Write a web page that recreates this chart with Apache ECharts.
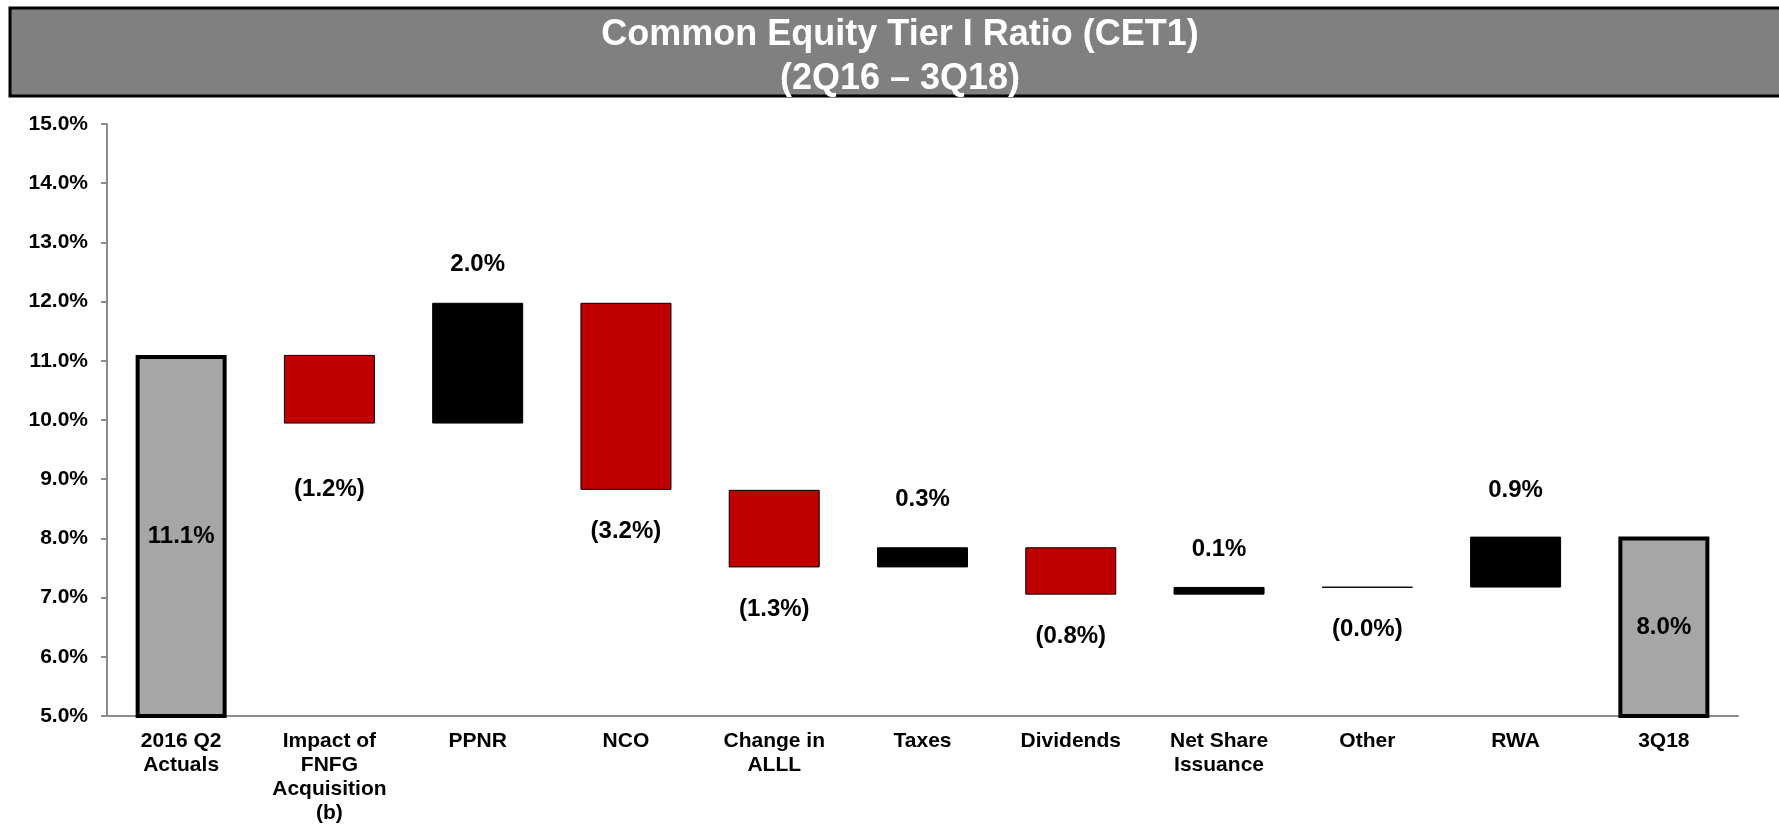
<!DOCTYPE html>
<html>
<head>
<meta charset="utf-8">
<script src="https://cdn.jsdelivr.net/npm/echarts@6/dist/echarts.min.js"></script>
<style>
html, body { margin: 0; padding: 0; background: #fff; }
#main { width: 1779px; height: 825px; }
</style>
</head>
<body>
<div id="main"></div>
<script>
// categories and values (percent)
var categories = ['2016 Q2\nActuals', 'Impact of\nFNFG\nAcquisition\n(b)', 'PPNR', 'NCO', 'Change in\nALLL',
    'Taxes', 'Dividends', 'Net Share\nIssuance', 'Other', 'RWA', '3Q18'];
var startValue = 11.1;
var changes = [-1.16, 2.04, -3.16, -1.31, 0.34, -0.80, 0.13, -0.01, 0.86];

// build waterfall: invisible base + visible step
var baseData = [0];
var stepData = [];
var running = startValue;
stepData.push({ value: startValue, kind: 'total', label: startValue.toFixed(1) + '%' });
changes.forEach(function (c) {
    var next = running + c;
    baseData.push(Math.min(running, next));
    var txt = c < 0 ? '(' + Math.abs(c).toFixed(1) + '%)' : c.toFixed(1) + '%';
    stepData.push({ value: Math.abs(c), kind: c < 0 ? 'down' : 'up', label: txt });
    running = next;
});
baseData.push(0);
stepData.push({ value: running, kind: 'total', label: running.toFixed(1) + '%' });

var styles = {
    total: { color: '#A6A6A6', borderColor: '#000', borderWidth: 4 },
    down: { color: '#C00000', borderColor: '#000', borderWidth: 1 },
    up: { color: '#000', borderColor: '#000', borderWidth: 1 }
};
var labelPos = { total: 'inside', down: 'bottom', up: 'top' };
// the labels were placed by hand in the original, some sit further off the bar
var labelDist = [0, 54, 26, 30, 30, 36, 30, 26, 30, 34, 0];

var myChart = echarts.init(document.getElementById('main'));
var font = 'Liberation Sans, Arial, sans-serif';

var option = {
    animation: false,
    title: {
        text: 'Common Equity Tier I Ratio (CET1)\n(2Q16 \u2013 3Q18)',
        left: 900,
        top: 13,
        padding: 0,
        textAlign: 'center',
        textStyle: {
            color: '#fff',
            fontFamily: font,
            fontWeight: 'bold',
            fontSize: 36,
            lineHeight: 44
        }
    },
    graphic: [{
        type: 'rect',
        z: -1,
        shape: { x: 10, y: 8, width: 1800, height: 88 },
        style: { fill: '#808080', stroke: '#000', lineWidth: 3 }
    }],
    grid: {
        left: 107,
        right: 41,
        top: 124,
        bottom: 108
    },
    xAxis: {
        type: 'category',
        data: categories,
        axisLine: { lineStyle: { color: '#8c8c8c', width: 2 } },
        axisTick: { length: 6, lineStyle: { color: '#8c8c8c', width: 2 } },
        axisLabel: {
            interval: 0,
            margin: 13,
            color: '#000',
            fontFamily: font,
            fontWeight: 'bold',
            fontSize: 21,
            lineHeight: 24
        }
    },
    yAxis: {
        type: 'value',
        min: 5,
        max: 15,
        interval: 1,
        splitLine: { show: false },
        axisLine: { show: true, lineStyle: { color: '#8c8c8c', width: 2 } },
        axisTick: { show: true, length: 6, lineStyle: { color: '#8c8c8c', width: 2 } },
        axisLabel: {
            margin: 19,
            color: '#000',
            fontFamily: font,
            fontWeight: 'bold',
            fontSize: 21,
            formatter: function (v) { return v.toFixed(1) + '%'; }
        }
    },
    series: [
        {
            name: 'base',
            type: 'bar',
            stack: 'w',
            barWidth: 91,
            itemStyle: { color: 'transparent' },
            silent: true,
            data: baseData
        },
        {
            name: 'step',
            type: 'bar',
            stack: 'w',
            barWidth: 91,
            data: stepData.map(function (d, i) {
                return {
                    value: d.value,
                    itemStyle: styles[d.kind],
                    label: {
                        show: true,
                        position: labelPos[d.kind],
                        distance: labelDist[i],
                        formatter: d.label,
                        color: '#000',
                        fontFamily: font,
                        fontWeight: 'bold',
                        fontSize: 24
                    }
                };
            })
        }
    ]
};

myChart.setOption(option);
</script>
</body>
</html>
